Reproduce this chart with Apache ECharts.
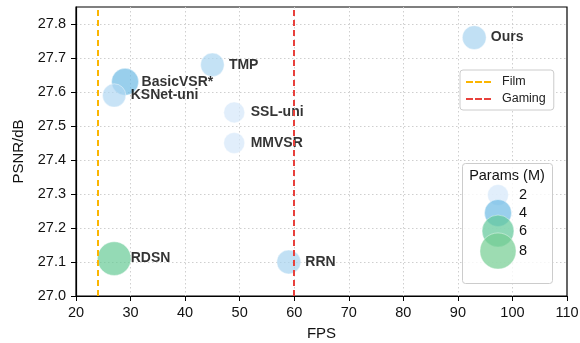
<!DOCTYPE html>
<html><head><meta charset="utf-8">
<script src="https://cdn.jsdelivr.net/npm/echarts@6/dist/echarts.min.js"></script>
<style>html,body{margin:0;padding:0;background:#fff}#c{width:580px;height:343px}</style>
</head><body><div id="c"></div>
<script>
// ---- data ----
const methods = ['Ours','TMP','BasicVSR*','KSNet-uni','SSL-uni','MMVSR','RDSN','RRN'];
const fps     = [93, 45, 29, 27, 49, 49, 27, 59];
const psnr    = [27.76, 27.68, 27.63, 27.59, 27.54, 27.45, 27.11, 27.10];
const params  = [2.9, 2.8, 4.0, 2.7, 2.0, 2.0, 6.8, 2.9];
const legendParams = [2, 4, 6, 8];
const refLines = ['Film', 'Gaming'];
const refFps = [24, 60];
const xTicks = [20, 110, 10];
const yTicks = [27.0, 27.85, 0.1];

// ---- styling helpers ----
const FONT = '"Liberation Sans", Arial, sans-serif';
const stops = [[2,[212,231,250]],[4,[110,186,228]],[6,[95,200,152]],[8,[115,205,145]]];
function colorOf(p){
  if(p<=stops[0][0]) return 'rgb('+stops[0][1].join(',')+')';
  for(let i=0;i<stops.length-1;i++){
    const a=stops[i],b=stops[i+1];
    if(p<=b[0]){const t=(p-a[0])/(b[0]-a[0]);
      return 'rgb('+a[1].map((v,k)=>Math.round(v+(b[1][k]-v)*t)).join(',')+')';}
  }
  return 'rgb('+stops[stops.length-1][1].join(',')+')';
}
function sizeOf(p){ return Math.sqrt(441 + 144*(p-2)); }
const ALPHA = 0.7;

const pts = methods.map((m,i)=>({name:m, value:[fps[i], psnr[i], params[i]]}));
const refColors = ['#fbb500','#e8413c'];

const chart = echarts.init(document.getElementById('c'), null, {renderer:'canvas'});

const legendX = 498, legendRowY = [195, 213, 231, 251];
const graphicEls = [
  {type:'rect', left:462, top:163, shape:{width:90, height:120, r:3}, style:{fill:'rgba(255,255,255,0.8)', stroke:'#cccccc', lineWidth:1}, z:100},
  {type:'text', x:507, y:176, style:{text:'Params (M)', font:'14.5px '+FONT, fill:'#111', align:'center', verticalAlign:'middle'}, z:101}
];
legendParams.forEach((p,i)=>{
  graphicEls.push({type:'circle', shape:{cx:legendX, cy:legendRowY[i], r:sizeOf(p)/2}, style:{fill:colorOf(p), opacity:ALPHA, stroke:'#fff', lineWidth:0.6}, z:101});
  graphicEls.push({type:'text', x:523, y:legendRowY[i], style:{text:String(p), font:'14.5px '+FONT, fill:'#111', align:'center', verticalAlign:'middle'}, z:102});
});

const gridLine = {show:true, showMinLine:false, showMaxLine:false, lineStyle:{type:[1.5,2.5], color:'#cfcfcf', width:1}};

const option = {
  animation:false,
  backgroundColor:'#fff',
  textStyle:{fontFamily:FONT},
  grid:{left:76, right:13, top:7, bottom:47, outerBoundsMode:'none', containLabel:false,
    show:true, borderColor:'#000', borderWidth:1.2, backgroundColor:'transparent'},
  xAxis:{type:'value', min:xTicks[0], max:xTicks[1], interval:xTicks[2],
    name:'FPS', nameLocation:'middle', nameGap:30, nameTextStyle:{fontSize:15, color:'#111', fontFamily:FONT},
    axisLine:{lineStyle:{color:'#000', width:1.2}}, axisTick:{show:true, length:5, lineStyle:{color:'#000'}},
    axisLabel:{fontSize:14.5, color:'#111', margin:9, fontFamily:FONT},
    splitLine:gridLine},
  yAxis:{type:'value', min:yTicks[0], max:yTicks[1], interval:yTicks[2],
    name:'PSNR/dB', nameLocation:'middle', nameGap:50, nameTextStyle:{fontSize:15, color:'#111', fontFamily:FONT},
    axisLine:{lineStyle:{color:'#000', width:1.2}}, axisTick:{show:true, length:5, lineStyle:{color:'#000'}},
    axisLabel:{fontSize:14.5, color:'#111', margin:10, fontFamily:FONT, showMaxLabel:false,
      formatter:v=> (Math.abs(v*10 - Math.round(v*10))>1e-6) ? '' : v.toFixed(1)},
    splitLine:gridLine},
  legend:{
    left:460, top:70, orient:'vertical', itemWidth:25, itemHeight:2, itemGap:3,
    padding:[5,8,4,6], borderColor:'#cccccc', borderWidth:1, borderRadius:3, backgroundColor:'#fff',
    textStyle:{fontSize:12.5, lineHeight:14, color:'#222', fontFamily:FONT, padding:[0,0,0,6]},
    data: refLines.map(n=>({name:n, icon:'path://M0 0H7V2H0Z M9 0H16V2H9Z M18 0H25V2H18Z'}))
  },
  graphic: graphicEls,
  series: [
    ...refLines.map((n,i)=>({
      name:n, type:'line', data:[], color:refColors[i], z:1,
      markLine:{silent:true, symbol:'none', label:{show:false},
        lineStyle:{color:refColors[i], type:[6,4], width:2},
        data:[{xAxis:refFps[i]}]}
    })),
    {type:'scatter', z:3, data:pts,
      symbolSize: v=>sizeOf(v[2]),
      itemStyle:{color: p=>colorOf(p.value[2]), opacity:ALPHA, borderColor:'#fff', borderWidth:0.6}},
    {type:'scatter', z:4, silent:true, data:pts, symbolSize:1, itemStyle:{color:'rgba(0,0,0,0)'},
      label:{show:true, position:'right', distance:16, formatter:p=>p.name,
        fontSize:14, fontWeight:'bold', color:'#000', fontFamily:FONT}}
  ]
};
chart.setOption(option);
</script></body></html>
